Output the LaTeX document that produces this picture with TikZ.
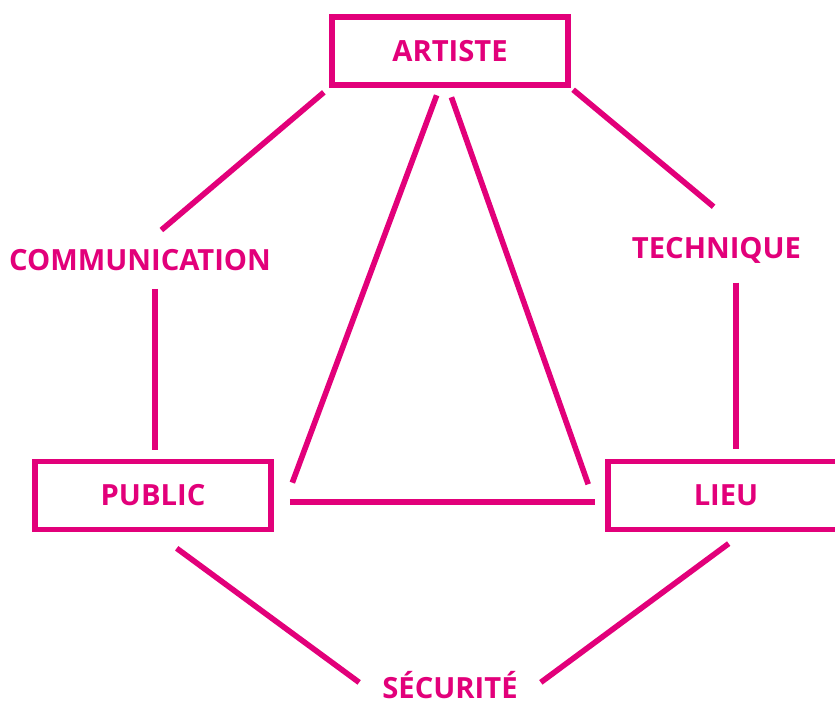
\documentclass[tikz,border=0pt]{standalone}
\usepackage{fontspec}
\setmainfont{Open Sans}
\usetikzlibrary{calc}
\definecolor{rose}{RGB}{226,0,122}
\tikzset{
  boite/.style={draw=rose, line width=1.6pt, minimum width=2.36cm, minimum height=0.68cm, inner sep=0pt, text=rose, font=\bfseries\fontsize{8.3}{10}\selectfont},
  etiquette/.style={text=rose, inner sep=0pt, anchor=base, font=\bfseries\fontsize{8.3}{10}\selectfont},
  lien/.style={draw=rose, line width=1.6pt}
}

\begin{document}
\begin{tikzpicture}
\useasboundingbox (0,0) rectangle (8.35,7.01);
\node[boite] (artiste) at (4.50,6.50){ARTISTE};
\node[boite] (public) at (1.53,2.055){PUBLIC};
\node[boite] (lieu) at (7.26,2.055){LIEU};
\node[etiquette] (comm) at (1.40,4.31){COMMUNICATION};
\node[etiquette] (tech) at (7.165,4.43){TECHNIQUE};
\node[etiquette] (secu) at (4.50,0.03){SÉCURITÉ};
\draw[lien, shorten <=0.07cm, shorten >=0.28cm] (artiste.south west) -- (comm.north);
\draw[lien, shorten <=0.18cm, shorten >=0.09cm] (comm.south -| public.87) -- (public.87);
\draw[lien, shorten <=0.03cm, shorten >=0.46cm] (artiste.south east) -- (tech.23);
\draw[lien, shorten <=0.19cm, shorten >=0.10cm] (tech.south -| lieu.75) -- (lieu.75);
\draw[lien, shorten <=0.08cm, shorten >=0.53cm] (artiste.254) -- (public.south east);
\draw[lien, shorten <=0.10cm, shorten >=0.51cm] (artiste.267) -- (lieu.south west);
\draw[lien, shorten <=0.16cm, shorten >=0.10cm] (public.357) -- (public.357 -| lieu.west);
\draw[lien, shorten <=0.27cm, shorten >=0.28cm] (public.273) -- (secu.south west);
\draw[lien, shorten <=0.19cm, shorten >=0.28cm] (lieu.296) -- (secu.south east);
\end{tikzpicture}
\end{document}
